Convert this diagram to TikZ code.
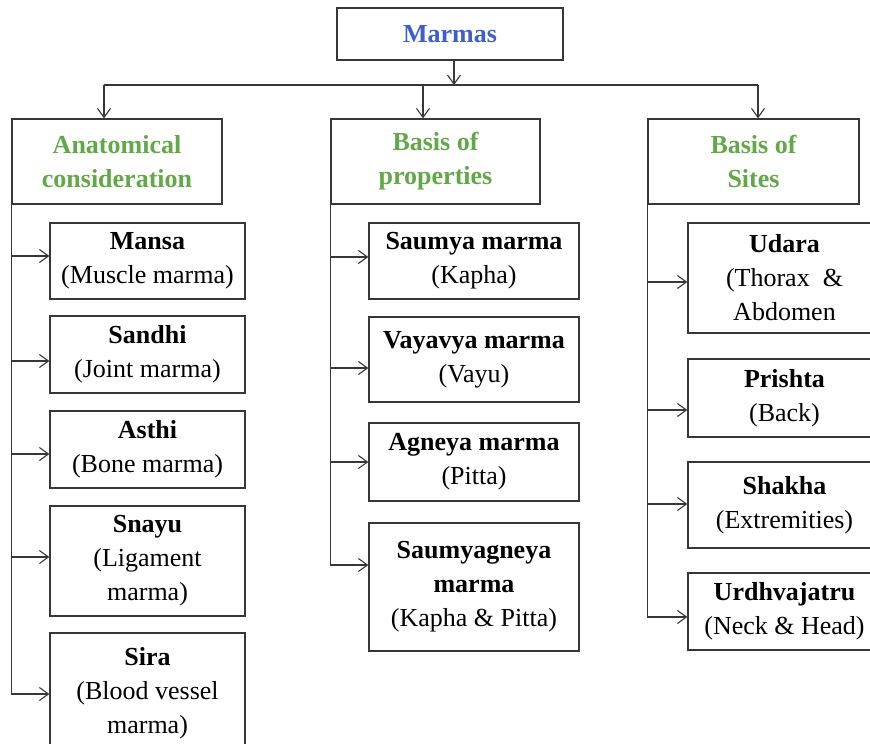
\documentclass[tikz,border=0pt]{standalone}
\usepackage{fontspec}
\setmainfont{Liberation Serif}
\usetikzlibrary{arrows.meta}
\definecolor{ttlblue}{RGB}{60,96,200}
\definecolor{hdgreen}{RGB}{98,168,72}
\definecolor{lncol}{RGB}{55,55,55}
\tikzset{
 box/.style={draw=lncol, line width=1.3pt, inner sep=0pt, align=center, font=\fontsize{26}{34}\selectfont, fill=white},
 ttl/.style={box, text=ttlblue, font=\fontsize{26}{34}\selectfont\bfseries},
 hdr/.style={box, text=hdgreen, font=\fontsize{26}{34}\selectfont\bfseries},
 arr/.style={draw=lncol, line width=1.2pt, -{Straight Barb[length=9pt,width=13pt,line width=1.1pt]}},
 wire/.style={draw=lncol, line width=1.3pt},
}
\begin{document}
\begin{tikzpicture}[x=1pt,y=-1pt]
\useasboundingbox (0,0) rectangle (870,744);
\clip (0,0) rectangle (870,744);

% title
\node[ttl, minimum width=226pt, minimum height=52pt] (title) at (450,34) {Marmas};

% headers
\node[hdr, minimum width=210pt, minimum height=85pt] (anat) at (117,161.5) {Anatomical\\consideration};
\node[hdr, minimum width=209pt, minimum height=85pt] (props) at (435.5,161.5) {Basis of\\properties};
\node[hdr, minimum width=211pt, minimum height=85pt] (sites) at (753.5,161.5) {Basis of\\Sites};

% left column
\node[box, minimum width=195pt, minimum height=76pt] (mansa) at (147.5,261) {\textbf{Mansa}\\(Muscle marma)};
\node[box, minimum width=195pt, minimum height=77pt] (sandhi) at (147.5,354.5) {\textbf{Sandhi}\\(Joint marma)};
\node[box, minimum width=195pt, minimum height=77pt] (asthi) at (147.5,449.5) {\textbf{Asthi}\\(Bone marma)};
\node[box, minimum width=195pt, minimum height=110pt] (snayu) at (147.5,561) {\textbf{Snayu}\\(Ligament\\marma)};
\node[box, minimum width=195pt, minimum height=120pt] (sira) at (147.5,693) {\textbf{Sira}\\(Blood vessel\\marma)};

% middle column
\node[box, minimum width=210pt, minimum height=76pt] (saumya) at (474,261) {\textbf{Saumya marma}\\(Kapha)};
\node[box, minimum width=210pt, minimum height=85pt] (vayavya) at (474,359.5) {\textbf{Vayavya marma}\\(Vayu)};
\node[box, minimum width=210pt, minimum height=78pt] (agneya) at (474,462) {\textbf{Agneya marma}\\(Pitta)};
\node[box, minimum width=210pt, minimum height=128pt] (saumyag) at (474,587) {\textbf{Saumyagneya}\\\textbf{marma}\\(Kapha \& Pitta)};

% right column
\node[box, minimum width=193pt, minimum height=110pt] (udara) at (784.5,278) {\textbf{Udara}\\(Thorax\ \ \&\\Abdomen};
\node[box, minimum width=193pt, minimum height=78pt] (prishta) at (784.5,398) {\textbf{Prishta}\\(Back)};
\node[box, minimum width=193pt, minimum height=86pt] (shakha) at (784.5,505) {\textbf{Shakha}\\(Extremities)};
\node[box, minimum width=193pt, minimum height=77pt] (urdhva) at (784.5,611.5) {\textbf{Urdhvajatru}\\(Neck \& Head)};

% top bus
\coordinate (busL) at (104,85);
\coordinate (busM) at (423,85);
\coordinate (busR) at (758,85);
\draw[wire] (busL) -- (busR);
\draw[arr] (title.south -| 454,0) -- (busL -| 454,0);
\draw[arr] (busL) -- (busL |- anat.north);
\draw[arr] (busM) -- (busM |- props.north);
\draw[arr] (busR) -- (busR |- sites.north);

% left trunk
\draw[wire] (anat.south west) -- (anat.south west |- 0,694);
\draw[arr] (anat.south west |- 0,256) -- (mansa.west |- 0,256);
\draw[arr] (anat.south west |- 0,361) -- (sandhi.west |- 0,361);
\draw[arr] (anat.south west |- 0,454) -- (asthi.west |- 0,454);
\draw[arr] (anat.south west |- 0,557) -- (snayu.west |- 0,557);
\draw[arr] (anat.south west |- 0,694) -- (sira.west |- 0,694);

% middle trunk
\draw[wire] (props.south west) -- (props.south west |- 0,565);
\draw[arr] (props.south west |- 0,257) -- (saumya.west |- 0,257);
\draw[arr] (props.south west |- 0,368) -- (vayavya.west |- 0,368);
\draw[arr] (props.south west |- 0,462) -- (agneya.west |- 0,462);
\draw[arr] (props.south west |- 0,565) -- (saumyag.west |- 0,565);

% right trunk
\draw[wire] (sites.south west) -- (sites.south west |- 0,617);
\draw[arr] (sites.south west |- 0,282) -- (udara.west |- 0,282);
\draw[arr] (sites.south west |- 0,410) -- (prishta.west |- 0,410);
\draw[arr] (sites.south west |- 0,504) -- (shakha.west |- 0,504);
\draw[arr] (sites.south west |- 0,617) -- (urdhva.west |- 0,617);
\end{tikzpicture}
\end{document}
